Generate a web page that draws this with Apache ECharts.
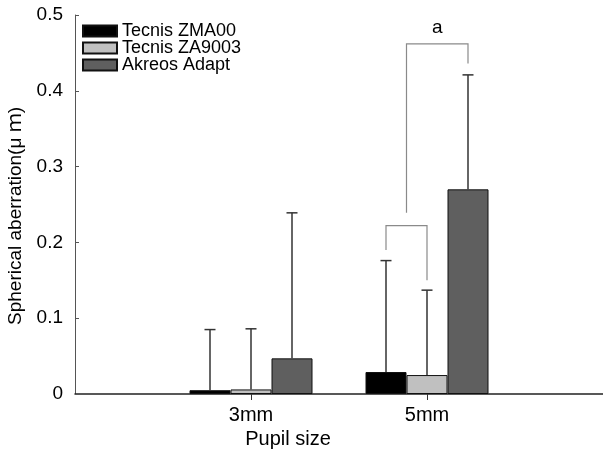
<!DOCTYPE html>
<html>
<head>
<meta charset="utf-8">
<script src="https://cdn.jsdelivr.net/npm/echarts@6/dist/echarts.min.js"></script>
<style>
  html, body { margin: 0; padding: 0; background: #fff; }
  #chart { width: 603px; height: 450px; }
</style>
</head>
<body>
<div id="chart"></div>
<script>
// pupil sizes (mm) and their labels
const pupilSizes = [3, 5]
const sizeLabels = ['3mm', '5mm']

const lensNames = ['Tecnis ZMA00', 'Tecnis ZA9003', 'Akreos Adapt']
const lensColors = ['#000000', '#c0c0c0', '#5f5f5f']

// mean spherical aberration per pupil size
const zma00Mean = [0.005, 0.029]
const za9003Mean = [0.006, 0.025]
const akreosMean = [0.047, 0.270]

// standard deviations (upper error bar only)
const zma00Sd = [0.080, 0.147]
const za9003Sd = [0.080, 0.112]
const akreosSd = [0.192, 0.151]

// significance brackets: pupil size, left bar idx, right bar idx, top, left leg end, right leg end, label
const bracketSize = [5, 5]
const bracketLeft = [0, 0.5]
const bracketRight = [1, 2]
const bracketTop = [0.222, 0.462]
const bracketLeftEnd = [0.190, 0.239]
const bracketRightEnd = [0.150, 0.436]
const bracketText = ['', 'a']

const BAR_W = 41
const FONT = '"Liberation Sans", Arial, "Noto Sans CJK SC", sans-serif'

const means = [zma00Mean, za9003Mean, akreosMean]
const sds = [zma00Sd, za9003Sd, akreosSd]

const barSeries = lensNames.map((name, i) => ({
  name,
  type: 'bar',
  barWidth: BAR_W,
  barGap: '0%',
  itemStyle: { color: lensColors[i], borderColor: '#111', borderWidth: 1 },
  data: pupilSizes.map((x, j) => [x, means[i][j]])
}))

const errData = []
means.forEach((m, i) => m.forEach((v, j) => errData.push([pupilSizes[j], v, sds[i][j], i])))

const bracketData = bracketSize.map((x, k) => [x, bracketTop[k], bracketLeft[k], bracketRight[k], bracketLeftEnd[k], bracketRightEnd[k], k])

const chart = echarts.init(document.getElementById('chart'))

chart.setOption({
  animation: false,
  textStyle: { fontFamily: FONT },
  grid: { left: 75, right: 0, top: 15, bottom: 56, outerBoundsMode: 'none', containLabel: false },
  legend: {
    orient: 'vertical',
    left: 77, top: 17,
    itemWidth: 34, itemHeight: 11, itemGap: -1,
    icon: 'rect',
    data: lensNames,
    textStyle: { fontSize: 18, lineHeight: 18, color: '#000', fontFamily: FONT }
  },
  xAxis: {
    type: 'value',
    min: 1, max: 7, interval: 1,
    name: 'Pupil size',
    nameLocation: 'middle',
    nameGap: 34,
    nameTextStyle: { fontSize: 20, color: '#000', padding: [0, 102, 0, 0] },
    splitLine: { show: false },
    axisLine: { show: true, lineStyle: { color: '#222', width: 1.5 } },
    axisTick: { show: true, inside: false, length: 6, customValues: pupilSizes, lineStyle: { color: '#333' } },
    axisLabel: {
      customValues: pupilSizes,
      fontSize: 20, color: '#000', margin: 11,
      formatter: v => sizeLabels[pupilSizes.indexOf(v)] || ''
    }
  },
  yAxis: {
    type: 'value',
    min: 0, max: 0.5, interval: 0.1,
    name: 'Spherical aberration(μ ｍ)',
    nameLocation: 'middle',
    nameGap: 44,
    nameTextStyle: { fontSize: 19, color: '#000', padding: [0, 23, 0, 0] },
    splitLine: { show: false },
    axisLine: { show: true, lineStyle: { color: '#555', width: 1 } },
    axisTick: { show: true, inside: true, length: 4, lineStyle: { color: '#555' } },
    axisLabel: { fontSize: 19, color: '#000', margin: 12 }
  },
  series: [
    ...barSeries,
    {
      type: 'custom',
      z: 5,
      silent: true,
      data: errData,
      encode: { x: 0, y: 1 },
      renderItem: (params, api) => {
        const x = api.value(0), m = api.value(1), sd = api.value(2), idx = api.value(3)
        const base = api.coord([x, m])
        const top = api.coord([x, m + sd])
        const cx = base[0] + (idx - 1) * BAR_W
        const style = { stroke: '#333', lineWidth: 1.5 }
        return {
          type: 'group',
          children: [
            { type: 'line', shape: { x1: cx, y1: base[1], x2: cx, y2: top[1] }, style },
            { type: 'line', shape: { x1: cx - 5.5, y1: top[1], x2: cx + 5.5, y2: top[1] }, style }
          ]
        }
      }
    },
    {
      type: 'custom',
      z: 6,
      silent: true,
      data: bracketData,
      encode: { x: 0, y: 1 },
      renderItem: (params, api) => {
        const x = api.value(0), t = api.value(1)
        const l = api.value(2), r = api.value(3)
        const c = api.coord([x, t])
        const xl = c[0] + (l - 1) * BAR_W
        const xr = c[0] + (r - 1) * BAR_W
        const yl = api.coord([x, api.value(4)])[1]
        const yr = api.coord([x, api.value(5)])[1]
        const label = bracketText[api.value(6)]
        const children = [{
          type: 'polyline',
          shape: { points: [[xl, yl], [xl, c[1]], [xr, c[1]], [xr, yr]] },
          style: { stroke: '#8a8a8a', lineWidth: 1.2, fill: null }
        }]
        if (label) {
          children.push({
            type: 'text',
            style: {
              text: label, x: (xl + xr) / 2, y: c[1] - 7,
              align: 'center', verticalAlign: 'bottom',
              fontSize: 19, fill: '#000', fontFamily: FONT
            }
          })
        }
        return { type: 'group', children }
      }
    }
  ]
})
</script>
</body>
</html>
